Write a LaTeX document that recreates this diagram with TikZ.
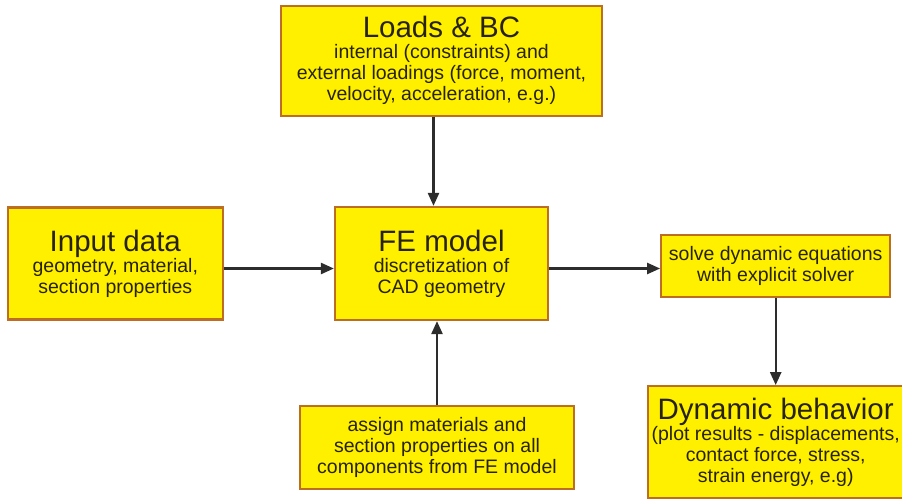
\documentclass[tikz,border=0pt]{standalone}
\usepackage{fontspec}
\setmainfont{Liberation Sans}
\usetikzlibrary{positioning,arrows.meta}
\definecolor{boxfill}{RGB}{255,240,0}
\definecolor{boxline}{RGB}{190,110,35}
\definecolor{boxtext}{RGB}{40,35,8}
\definecolor{arrowgray}{RGB}{45,45,45}
\newcommand{\boxhead}[1]{{\fontsize{29.5}{30}\selectfont #1}}
\tikzset{
  block/.style={draw=boxline, fill=boxfill, line width=2.2pt, text=boxtext,
    align=center, inner sep=0pt, font=\fontsize{19.5}{21}\selectfont},
  flow/.style={draw=arrowgray, line width=2.4pt, -{Triangle[length=13pt,width=11pt]}},
}

\begin{document}
\begin{tikzpicture}
    \useasboundingbox (0,0) rectangle (902pt,-501pt);
    \node [block, minimum width=213pt, minimum height=113pt] (fe) at (441.5pt,-263.5pt)
        {\boxhead{FE model}\\discretization of\\CAD geometry};
    \node [block, minimum width=321pt, minimum height=110pt, above=89pt of fe] (loads)
        {\boxhead{Loads \& BC}\\internal (constraints) and\\external loadings (force, moment,\\velocity, acceleration, e.g.)};
    \node [block, minimum width=215pt, minimum height=112pt, left=110pt of fe] (input)
        {\boxhead{Input data}\\geometry, material,\\section properties};
    \node [block, minimum width=229pt, minimum height=62pt, right=111pt of fe, yshift=-2.5pt] (solve)
        {solve dynamic equations\\with explicit solver};
    \node [block, minimum width=274pt, minimum height=83pt, below=84pt of fe, xshift=-4.5pt] (assign)
        {assign materials and\\section properties on all\\components from FE model};
    \node [block, minimum width=256pt, minimum height=112pt, below=87pt of solve] (dyn)
        {\boxhead{Dynamic behavior}\\(plot results - displacements,\\contact force, stress,\\strain energy, e.g)};

    \draw [flow] ([xshift=-8pt]loads.south) -- ([xshift=-8pt]fe.north);
    \draw [flow] ([yshift=-5pt]input.east) -- ([yshift=-5pt]fe.west);
    \draw [flow] ([yshift=-5pt]fe.east) -- ([yshift=-5pt]fe.east -| solve.west);
    \draw [flow] (solve) -- (dyn);
    \draw [flow] (assign.north) -- (assign.north |- fe.south);
\end{tikzpicture}
\end{document}
